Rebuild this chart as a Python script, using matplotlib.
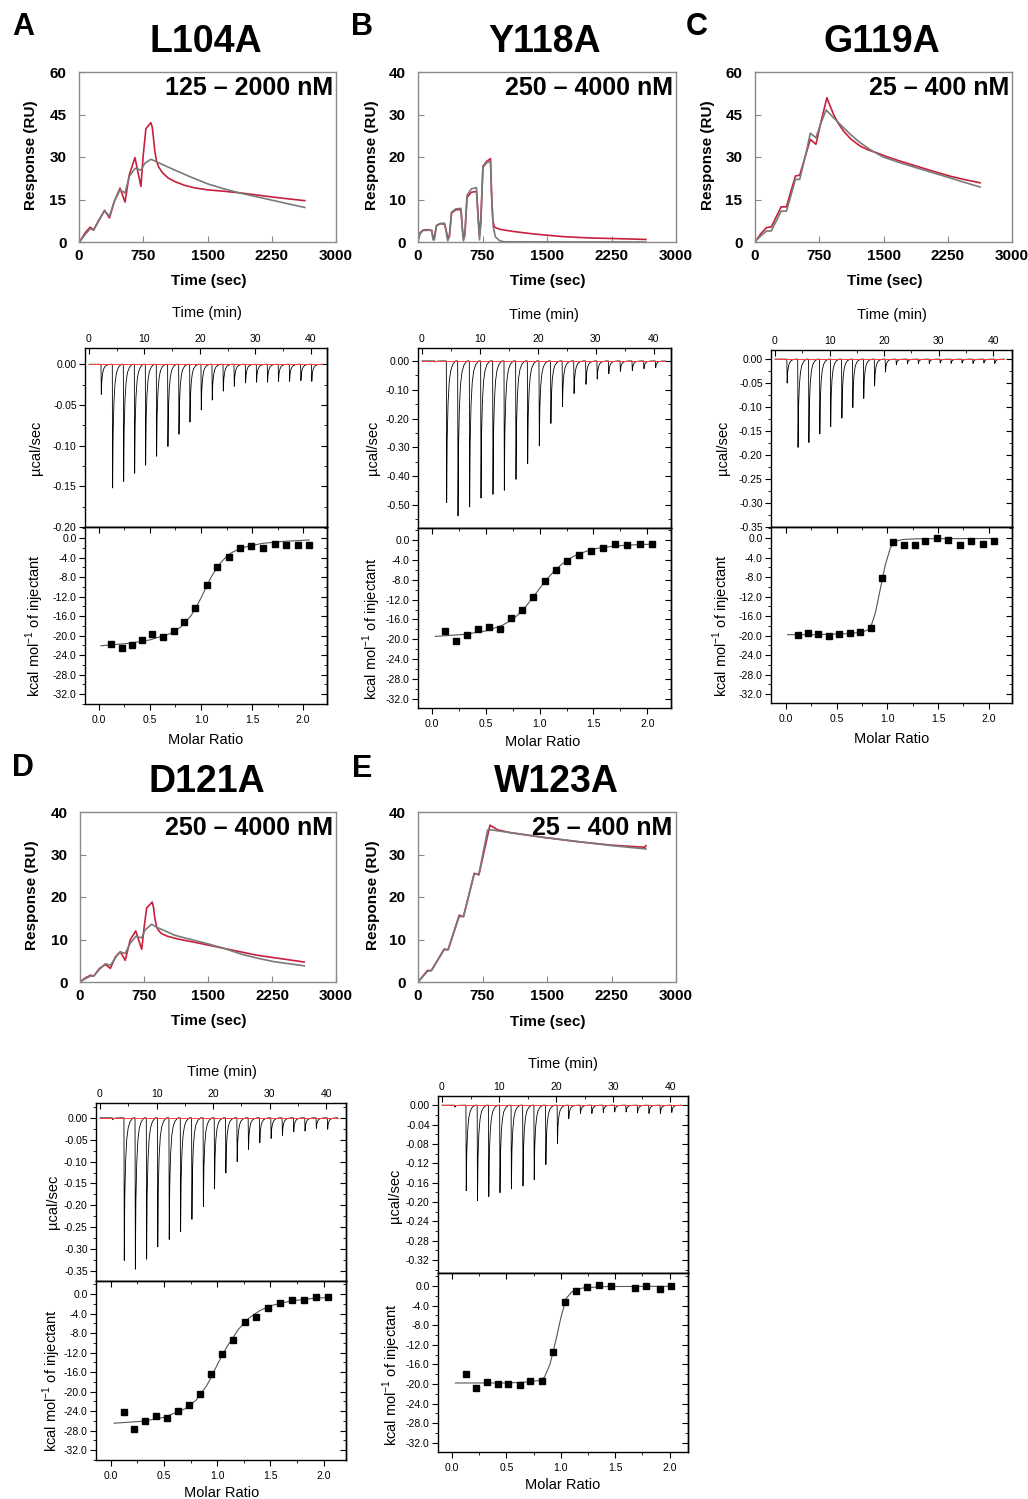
import numpy as np
import matplotlib
matplotlib.use('Agg')
import matplotlib.pyplot as plt
from matplotlib.ticker import MultipleLocator, FormatStrFormatter

plt.rcParams['font.family'] = ['Liberation Sans', 'DejaVu Sans']
plt.rcParams['axes.unicode_minus'] = False
plt.rcParams['mathtext.fontset'] = 'custom'
plt.rcParams['mathtext.rm'] = 'Liberation Sans'

# ---------------- SPR data (time in s, response in RU) ----------------
A_red_t = [10, 73, 131, 170, 228, 298, 356, 413, 479, 537, 587, 653, 723, 750, 781, 839, 855, 870, 885, 905, 930, 970, 1040, 1120, 1233, 1350, 1504, 1697, 1890, 2100, 2277, 2450, 2636]
A_red_y = [0.2, 3.3, 5.25, 4.2, 7.35, 11.2, 8.5, 14.4, 19.0, 14.1, 23.7, 29.8, 19.6, 30.7, 40.0, 42.1, 40.5, 36.5, 32.0, 28.5, 26.5, 24.6, 22.6, 21.3, 20.0, 19.1, 18.4, 17.9, 17.3, 16.5, 15.8, 15.2, 14.6]
A_fit_t = [10, 73, 131, 170, 228, 298, 356, 413, 479, 537, 587, 653, 723, 769, 839, 885, 1000, 1117, 1300, 1504, 1700, 1890, 2100, 2277, 2450, 2636]
A_fit_y = [0.2, 2.7, 4.7, 4.2, 7.6, 10.9, 9.1, 14.4, 18.4, 17.3, 23.1, 26.0, 25.4, 27.8, 29.2, 28.6, 27.0, 25.4, 23.0, 20.5, 18.7, 17.2, 15.8, 14.6, 13.4, 12.2]

B_red_t = [0, 25, 60, 120, 160, 175, 190, 215, 260, 310, 330, 345, 365, 390, 440, 500, 515, 528, 545, 570, 620, 680, 700, 715, 730, 755, 800, 843, 855, 870, 890, 950, 1100, 1300, 1500, 1700, 2000, 2300, 2650]
B_red_y = [0.5, 2.2, 2.8, 2.9, 2.6, 1.0, 1.2, 3.9, 4.3, 4.2, 2.5, 1.0, 1.5, 6.8, 7.6, 7.6, 3.5, 1.0, 2.0, 10.5, 11.7, 11.9, 6.0, 1.5, 5.0, 17.8, 19.0, 19.6, 12.0, 5.0, 3.5, 3.0, 2.5, 2.0, 1.6, 1.25, 0.95, 0.8, 0.6]
B_fit_t = [0, 25, 60, 160, 175, 190, 215, 260, 310, 330, 345, 365, 390, 440, 500, 515, 528, 545, 570, 620, 680, 700, 715, 730, 755, 800, 843, 855, 875, 900, 950, 1000, 2650]
B_fit_y = [0.3, 2.0, 2.7, 2.8, 0.5, 0.5, 3.8, 4.4, 4.4, 2.0, 0.3, 1.2, 7.0, 7.8, 7.9, 3.0, 0.3, 1.5, 11.0, 12.5, 12.8, 5.0, 0.5, 4.0, 17.5, 18.7, 18.9, 11.0, 3.5, 1.2, 0.3, 0.05, 0.0]

C_red_t = [8, 70, 135, 190, 250, 305, 367, 420, 472, 522, 585, 646, 711, 775, 839, 870, 916, 970, 1032, 1120, 1225, 1320, 1419, 1550, 1689, 1882, 2080, 2269, 2450, 2628]
C_red_y = [0.35, 3.0, 5.1, 5.3, 9.0, 12.4, 12.4, 18.0, 23.3, 23.6, 30.0, 36.2, 34.5, 43.0, 50.9, 48.5, 45.1, 42.0, 39.2, 36.3, 33.9, 32.5, 31.5, 30.0, 28.6, 26.8, 25.0, 23.3, 22.0, 20.9]
C_fit_t = [8, 70, 135, 190, 250, 305, 367, 420, 472, 522, 585, 646, 711, 770, 831, 870, 916, 1032, 1120, 1225, 1350, 1496, 1690, 1882, 2080, 2269, 2450, 2628]
C_fit_y = [0.35, 2.2, 3.9, 3.9, 7.5, 10.9, 10.9, 16.5, 22.1, 22.1, 30.0, 38.4, 36.8, 42.0, 46.6, 45.3, 43.9, 40.4, 37.8, 35.1, 32.5, 30.0, 28.0, 26.2, 24.4, 22.7, 21.0, 19.4]

D_red_t = [8, 66, 124, 162, 228, 298, 356, 414, 472, 530, 588, 653, 723, 750, 781, 846, 862, 877, 900, 930, 955, 1020, 1109, 1200, 1303, 1500, 1689, 1880, 2076, 2350, 2628]
D_red_y = [0.15, 1.0, 1.6, 1.4, 3.2, 4.1, 3.2, 5.9, 7.1, 5.1, 9.9, 12.0, 7.7, 12.6, 17.4, 18.8, 17.5, 15.0, 12.8, 11.9, 11.4, 10.8, 10.3, 9.9, 9.5, 8.7, 7.9, 7.1, 6.3, 5.5, 4.7]
D_fit_t = [8, 66, 124, 162, 228, 298, 356, 414, 472, 530, 588, 653, 723, 761, 839, 896, 1000, 1109, 1300, 1496, 1690, 1882, 2080, 2269, 2450, 2628]
D_fit_y = [0.15, 0.8, 1.4, 1.4, 3.0, 4.3, 3.9, 5.7, 7.1, 6.7, 9.1, 10.7, 10.4, 12.2, 13.6, 12.9, 12.0, 11.0, 10.0, 9.0, 7.9, 6.6, 5.6, 4.8, 4.3, 3.8]

E_red_t = [0, 109, 156, 304, 350, 479, 529, 654, 708, 837, 870, 926, 1082, 1471, 1861, 2250, 2639, 2651]
E_red_y = [0, 2.7, 2.7, 7.75, 7.6, 15.7, 15.4, 25.6, 25.2, 36.9, 36.5, 35.8, 35.1, 34.0, 33.0, 32.2, 31.7, 32.1]
E_fit_t = [0, 109, 156, 304, 350, 479, 529, 654, 708, 810, 849, 1471, 2250, 2651]
E_fit_y = [0, 2.5, 2.7, 7.6, 7.6, 15.4, 15.4, 25.4, 25.4, 35.8, 35.8, 34.0, 32.1, 31.3]

# ---------------- ITC data ----------------
A_inj_t = [2.16, 4.2, 6.19, 8.17, 10.15, 12.13, 14.17, 16.16, 18.14, 20.18, 22.16, 24.15, 26.13, 28.17, 30.15, 32.13, 34.1, 36.1, 38.14, 40.1]
A_inj_d = [-0.037, -0.152, -0.144, -0.134, -0.124, -0.113, -0.101, -0.086, -0.071, -0.056, -0.044, -0.033, -0.027, -0.023, -0.022, -0.022, -0.021, -0.021, -0.020, -0.021]
A_mr = [0.121, 0.222, 0.32, 0.425, 0.523, 0.63, 0.732, 0.837, 0.944, 1.059, 1.16, 1.271, 1.386, 1.493, 1.605, 1.722, 1.833, 1.948, 2.062]
A_dh = [-21.7, -22.6, -22.0, -20.9, -19.6, -20.4, -19.1, -17.3, -14.4, -9.6, -6.0, -3.8, -2.1, -1.7, -2.05, -1.16, -1.37, -1.5, -1.5]
A_fx = [0.02, 0.3, 0.5, 0.7, 0.8, 0.9, 0.95, 1.0, 1.05, 1.1, 1.15, 1.2, 1.25, 1.3, 1.4, 1.6, 1.8, 2.06]
A_fy = [-22.1, -21.6, -20.9, -19.6, -18.3, -16.0, -14.3, -12.3, -10.1, -8.0, -6.3, -4.9, -3.8, -3.0, -2.0, -1.1, -0.7, -0.4]

B_inj_t = [2.2, 4.2, 6.16, 8.17, 10.13, 12.2, 14.16, 16.17, 18.19, 20.2, 22.2, 24.2, 26.2, 28.26, 30.2, 32.2, 34.2, 36.26, 38.27, 40.3]
B_inj_d = [-0.004, -0.492, -0.538, -0.507, -0.476, -0.463, -0.449, -0.411, -0.356, -0.295, -0.217, -0.159, -0.113, -0.081, -0.063, -0.044, -0.036, -0.033, -0.027, -0.023]
B_mr = [0.123, 0.225, 0.323, 0.428, 0.53, 0.63, 0.732, 0.837, 0.94, 1.046, 1.154, 1.258, 1.366, 1.477, 1.588, 1.698, 1.81, 1.93, 2.04]
B_dh = [-18.35, -20.3, -19.1, -17.95, -17.5, -17.9, -15.7, -14.0, -11.4, -8.27, -5.98, -4.17, -2.96, -2.15, -1.55, -0.8, -0.94, -0.8, -0.8]
B_fx = [0.03, 0.3, 0.5, 0.65, 0.75, 0.85, 0.95, 1.05, 1.15, 1.25, 1.35, 1.5, 1.7, 1.9, 2.04]
B_fy = [-19.4, -19.0, -18.3, -17.2, -16.0, -14.0, -11.2, -8.3, -5.9, -4.1, -2.9, -1.8, -1.2, -0.95, -0.87]

C_inj_t = [2.18, 4.17, 6.16, 8.16, 10.15, 12.2, 14.2, 16.2, 18.19, 20.18, 22.17, 24.2, 26.2, 28.2, 30.2, 32.2, 34.2, 36.2, 38.2, 40.2]
C_inj_d = [-0.050, -0.184, -0.174, -0.156, -0.141, -0.123, -0.101, -0.082, -0.056, -0.027, -0.012, -0.010, -0.009, -0.009, -0.008, -0.009, -0.008, -0.009, -0.008, -0.009]
C_mr = [0.115, 0.217, 0.319, 0.42, 0.522, 0.627, 0.729, 0.834, 0.943, 1.051, 1.16, 1.268, 1.376, 1.488, 1.603, 1.714, 1.83, 1.944, 2.056]
C_dh = [-19.8, -19.5, -19.6, -20.1, -19.7, -19.5, -19.2, -18.4, -8.1, -0.75, -1.37, -1.44, -0.69, -0.07, -0.34, -1.5, -0.69, -1.17, -0.69]
C_fx = [0.016, 0.3, 0.6, 0.75, 0.83, 0.88, 0.93, 0.98, 1.03, 1.08, 1.15, 1.3, 1.6, 2.06]
C_fy = [-19.8, -19.8, -19.6, -19.3, -18.6, -15.5, -10.5, -5.5, -2.0, -0.7, -0.3, -0.15, -0.12, -0.1]

D_inj_t = [2.2, 4.24, 6.2, 8.19, 10.16, 12.19, 14.2, 16.2, 18.23, 20.2, 22.2, 24.2, 26.2, 28.2, 30.2, 32.2, 34.2, 36.2, 38.2, 40.2]
D_inj_d = [-0.004, -0.326, -0.346, -0.323, -0.295, -0.278, -0.260, -0.232, -0.203, -0.162, -0.126, -0.100, -0.072, -0.057, -0.047, -0.040, -0.032, -0.030, -0.024, -0.026]
D_mr = [0.125, 0.218, 0.321, 0.424, 0.527, 0.63, 0.733, 0.836, 0.94, 1.042, 1.151, 1.257, 1.367, 1.479, 1.59, 1.704, 1.813, 1.928, 2.04]
D_dh = [-24.3, -27.6, -26.1, -25.1, -25.5, -23.9, -22.7, -20.6, -16.5, -12.4, -9.4, -5.7, -4.7, -2.86, -1.84, -1.16, -1.16, -0.61, -0.61]
D_fx = [0.03, 0.3, 0.5, 0.7, 0.8, 0.9, 0.95, 1.0, 1.05, 1.1, 1.2, 1.3, 1.4, 1.5, 1.7, 1.9, 2.04]
D_fy = [-26.5, -26.1, -25.3, -23.5, -21.8, -18.8, -16.8, -14.5, -12.4, -10.5, -7.2, -4.9, -3.4, -2.4, -1.4, -0.9, -0.7]

E_inj_t = [2.2, 4.19, 6.16, 8.14, 10.1, 12.1, 14.13, 16.1, 18.14, 20.17, 22.15, 24.2, 26.2, 28.2, 30.2, 32.2, 34.2, 36.2, 38.2, 40.2]
E_inj_d = [-0.004, -0.177, -0.197, -0.189, -0.181, -0.173, -0.167, -0.154, -0.123, -0.079, -0.028, -0.017, -0.017, -0.015, -0.014, -0.014, -0.016, -0.017, -0.017, -0.015]
E_mr = [0.132, 0.224, 0.322, 0.426, 0.518, 0.62, 0.72, 0.831, 0.932, 1.034, 1.141, 1.245, 1.353, 1.457, 1.678, 1.785, 1.908, 2.018]
E_dh = [-18.0, -20.85, -19.7, -20.0, -20.0, -20.2, -19.3, -19.3, -13.5, -3.3, -0.96, -0.2, 0.2, 0.07, -0.34, 0.0, -0.6, 0.07]
E_fx = [0.03, 0.5, 0.7, 0.8, 0.85, 0.9, 0.95, 1.0, 1.05, 1.1, 1.2, 1.4, 2.02]
E_fy = [-19.8, -19.8, -19.6, -19.3, -18.6, -16.0, -11.5, -6.5, -2.5, -1.2, -0.4, -0.1, -0.05]

# peak shape used for every injection (offset in min, fraction of depth)
peak_dt = [0.0, 0.06, 0.15, 0.3, 0.5, 0.75, 1.1, 1.6]
peak_frac = [0.0, 1.0, 0.55, 0.3, 0.15, 0.07, 0.025, 0.0]

W, H = 1028, 1499
fig = plt.figure(figsize=(W / 100, H / 100), dpi=100)

RED = '#c8203c'
GREY = '#7a7a7a'


def box(x0, y0, x1, y1):
    return fig.add_axes([x0 / W, 1 - y1 / H, (x1 - x0) / W, (y1 - y0) / H])


def ftext(x, y, s, **kw):
    fig.text(x / W, 1 - y / H, s, **kw)


def spr(frame, rt, ry, ft, fy, ymax, ystep, conc, conc_xy, title, title_xy, letter, letter_xy, ylab_x, xlab_y):
    ax = box(*frame)
    ax.plot(rt, ry, color=RED, lw=1.2)
    ax.plot(ft, fy, color=GREY, lw=1.2)
    ax.set_xlim(0, 3000)
    ax.set_ylim(0, ymax)
    ax.set_xticks([0, 750, 1500, 2250, 3000])
    ax.set_yticks(np.arange(0, ymax + 1, ystep))
    ax.tick_params(direction='in', length=4, color='#888888', labelsize=11, pad=5)
    ax.tick_params(axis='y', pad=9)
    for lb in ax.get_xticklabels() + ax.get_yticklabels():
        lb.set_fontweight('bold')
    for s in ax.spines.values():
        s.set_color('#8a8a8a')
        s.set_linewidth(1.0)
    ftext(conc_xy[0], conc_xy[1], conc, ha='right', va='baseline', fontsize=18, fontweight='bold')
    ftext(title_xy[0], title_xy[1], title, ha='center', va='center', fontsize=27, fontweight='bold')
    ftext(letter_xy[0], letter_xy[1], letter, ha='center', va='center', fontsize=22, fontweight='bold')
    cy = (frame[1] + frame[3]) / 2
    cx = (frame[0] + frame[2]) / 2
    ftext(ylab_x, cy - 2, 'Response (RU)', rotation=90, ha='center', va='center', fontsize=11, fontweight='bold')
    ftext(cx + 1, xlab_y, 'Time (sec)', ha='center', va='center', fontsize=11, fontweight='bold')


def itc(top, bot, inj_t, inj_d, mr, dh, fx, fy, txlim, bxlim, tylim, bylim, tticks, tfmt, tminor, labs):
    # raw power trace
    ax = box(*top)
    tt = [0.0]
    yy = [0.0]
    for t0, d in zip(inj_t, inj_d):
        for dt, fr in zip(peak_dt, peak_frac):
            tt.append(t0 + dt)
            yy.append(d * fr)
    tt.append(42.0)
    yy.append(0.0)
    ax.plot(tt, yy, color='black', lw=0.6)
    ax.plot([0, 42], [0, 0], color='#ff3b3b', lw=0.7)
    ax.set_xlim(*txlim)
    ax.set_ylim(*tylim)
    ax.set_yticks(tticks)
    ax.yaxis.set_major_formatter(FormatStrFormatter(tfmt))
    ax.yaxis.set_minor_locator(MultipleLocator(tminor))
    ax.set_xticks([0, 10, 20, 30, 40])
    ax.xaxis.set_minor_locator(MultipleLocator(5))
    ax.tick_params(axis='x', which='both', top=True, bottom=False, labeltop=True,
                   labelbottom=False, direction='in', labelsize=7.5, pad=3)
    ax.tick_params(axis='x', which='major', length=4)
    ax.tick_params(axis='x', which='minor', length=2)
    ax.tick_params(axis='y', which='both', direction='out', labelsize=7.5, pad=2)
    ax.tick_params(axis='y', which='major', length=4)
    ax.tick_params(axis='y', which='minor', length=2)
    sec = ax.secondary_yaxis('right')
    sec.set_yticks(tticks)
    sec.yaxis.set_minor_locator(MultipleLocator(tminor))
    sec.tick_params(which='both', direction='in', labelright=False)
    sec.tick_params(which='major', length=4)
    sec.tick_params(which='minor', length=2)
    for s in list(ax.spines.values()) + list(sec.spines.values()):
        s.set_linewidth(1.0)

    # integrated heats
    bx = box(*bot)
    bx.plot(fx, fy, color='#555555', lw=0.8)
    bx.plot(mr, dh, 's', color='black', ms=5)
    bx.set_xlim(*bxlim)
    bx.set_ylim(*bylim)
    bx.set_yticks(np.arange(0, -33, -4))
    bx.yaxis.set_major_formatter(FormatStrFormatter('%.1f'))
    bx.yaxis.set_minor_locator(MultipleLocator(2))
    bx.set_xticks([0, 0.5, 1.0, 1.5, 2.0])
    bx.xaxis.set_major_formatter(FormatStrFormatter('%.1f'))
    bx.xaxis.set_minor_locator(MultipleLocator(0.25))
    bx.tick_params(which='both', direction='out', labelsize=7.5, pad=2)
    bx.tick_params(which='major', length=4)
    bx.tick_params(which='minor', length=2)
    bx.tick_params(axis='x', pad=4)
    s2 = bx.secondary_yaxis('right')
    s2.set_yticks(np.arange(0, -33, -4))
    s2.yaxis.set_minor_locator(MultipleLocator(2))
    s2.tick_params(which='both', direction='in', labelright=False)
    s2.tick_params(which='major', length=4)
    s2.tick_params(which='minor', length=2)
    s3 = bx.secondary_xaxis('top')
    s3.set_xticks([0, 0.5, 1.0, 1.5, 2.0])
    s3.xaxis.set_minor_locator(MultipleLocator(0.25))
    s3.tick_params(which='both', direction='in', labeltop=False)
    s3.tick_params(which='major', length=4)
    s3.tick_params(which='minor', length=2)
    for s in list(bx.spines.values()) + list(s2.spines.values()) + list(s3.spines.values()):
        s.set_linewidth(1.0)

    (tmx, tmy), (ux, uy), (kx, ky), (mx, my) = labs
    ftext(tmx, tmy, 'Time (min)', ha='center', va='center', fontsize=10.5)
    ftext(ux, uy, 'µcal/sec', ha='center', va='center', rotation=90, fontsize=10.5)
    ftext(kx, ky, 'kcal mol$^{-1}$ of injectant', ha='center', va='center', rotation=90, fontsize=10.5)
    ftext(mx, my, 'Molar Ratio', ha='center', va='center', fontsize=10.5)


# SPR panels
spr((79, 72, 336, 242), A_red_t, A_red_y, A_fit_t, A_fit_y, 60, 15, '125 – 2000 nM', (333, 95),
    'L104A', (206, 42), 'A', (23, 27), 31, 281)
spr((418, 72, 676, 242), B_red_t, B_red_y, B_fit_t, B_fit_y, 40, 10, '250 – 4000 nM', (673, 95),
    'Y118A', (545, 42), 'B', (362, 27), 372, 281)
spr((755, 72, 1012, 242), C_red_t, C_red_y, C_fit_t, C_fit_y, 60, 15, '25 – 400 nM', (1009, 95),
    'G119A', (882, 42), 'C', (697, 27), 708, 281)
spr((80, 812, 336, 982), D_red_t, D_red_y, D_fit_t, D_fit_y, 40, 10, '250 – 4000 nM', (333, 835),
    'D121A', (207, 782), 'D', (23, 768), 32, 1021)
spr((418, 812, 676, 982), E_red_t, E_red_y, E_fit_t, E_fit_y, 40, 10, '25 – 400 nM', (672, 835),
    'W123A', (556, 782), 'E', (362, 769), 373, 1022)

# ITC panels
itc((85, 348, 327, 527), (85, 527, 327, 704), A_inj_t, A_inj_d, A_mr, A_dh, A_fx, A_fy,
    (-0.72, 42.9), (-0.137, 2.235), (-0.20, 0.02), (-34.05, 2.26),
    np.arange(0, -0.201, -0.05), '%.2f', 0.025,
    [(207, 313), (36, 448), (35, 626), (206, 740)])
itc((418, 348, 671, 528), (418, 528, 671, 708), B_inj_t, B_inj_d, B_mr, B_dh, B_fx, B_fy,
    (-0.69, 43.0), (-0.13, 2.22), (-0.58, 0.045), (-33.8, 2.4),
    np.arange(0, -0.501, -0.10), '%.2f', 0.05,
    [(544, 315), (373, 448), (372, 629), (543, 742)])
itc((771, 350, 1012, 527), (771, 527, 1012, 703), C_inj_t, C_inj_d, C_mr, C_dh, C_fx, C_fy,
    (-0.72, 43.4), (-0.148, 2.23), (-0.35, 0.019), (-33.8, 2.26),
    np.arange(0, -0.351, -0.05), '%.2f', 0.025,
    [(892, 315), (723, 448), (722, 626), (892, 739)])
itc((96, 1103, 346, 1281), (96, 1281, 346, 1460), D_inj_t, D_inj_d, D_mr, D_dh, D_fx, D_fy,
    (-0.7, 43.5), (-0.14, 2.21), (-0.373, 0.034), (-34.05, 2.67),
    np.arange(0, -0.351, -0.05), '%.2f', 0.025,
    [(222, 1072), (53, 1202), (52, 1381), (222, 1493)])
itc((438, 1096, 688, 1273), (438, 1273, 688, 1452), E_inj_t, E_inj_d, E_mr, E_dh, E_fx, E_fy,
    (-0.7, 43.1), (-0.13, 2.17), (-0.347, 0.019), (-33.9, 2.67),
    np.arange(0, -0.321, -0.04), '%.2f', 0.02,
    [(563, 1064), (395, 1196), (392, 1375), (563, 1485)])

fig.savefig('out.png', dpi=100)
